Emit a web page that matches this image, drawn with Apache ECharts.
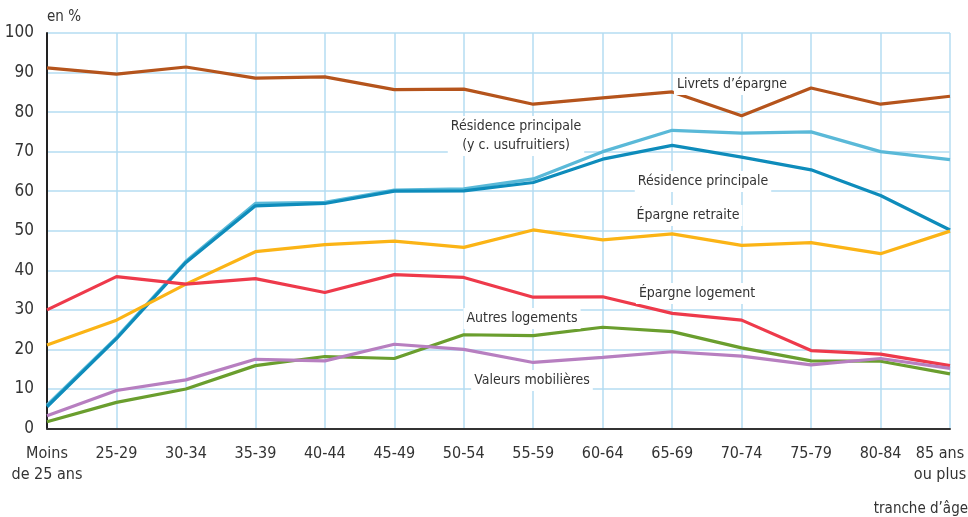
<!DOCTYPE html>
<html>
<head>
<meta charset="utf-8">
<script src="https://cdn.jsdelivr.net/npm/echarts@6/dist/echarts.min.js"></script>
<style>
  html, body { margin: 0; padding: 0; background: #fff; }
  #chart { width: 968px; height: 517px; }
</style>
</head>
<body>
<div id="chart"></div>
<script>
const ageGroups = ['Moins\nde 25 ans', '25-29', '30-34', '35-39', '40-44', '45-49', '50-54',
  '55-59', '60-64', '65-69', '70-74', '75-79', '80-84', '85 ans\nou plus']

const livrets = [91.2, 89.6, 91.4, 88.6, 88.9, 85.7, 85.8, 82.0, 83.6, 85.1, 79.1, 86.1, 82.0, 84.0]
const residenceUsufruit = [5.9, 23.0, 42.3, 56.9, 57.2, 60.3, 60.6, 63.1, 70.0, 75.4, 74.7, 75.0, 70.0, 68.0]
const residence = [5.5, 22.7, 42.0, 56.3, 56.9, 60.0, 60.1, 62.2, 68.1, 71.6, 68.6, 65.4, 58.9, 50.2]
const epargneRetraite = [21.1, 27.4, 36.5, 44.7, 46.5, 47.4, 45.8, 50.2, 47.7, 49.2, 46.3, 47.0, 44.2, 49.9]
const epargneLogement = [30.0, 38.4, 36.5, 37.9, 34.4, 38.9, 38.2, 33.2, 33.3, 29.1, 27.4, 19.7, 18.8, 15.9]
const autresLogements = [1.7, 6.6, 10.0, 15.9, 18.2, 17.7, 23.7, 23.5, 25.6, 24.5, 20.4, 17.1, 17.0, 13.8]
const valeursMobilieres = [3.2, 9.6, 12.3, 17.5, 17.1, 21.3, 20.0, 16.7, 18.0, 19.4, 18.3, 16.1, 17.7, 15.2]

const font = '"Liberation Sans Narrow", "DejaVu Sans Condensed", "Liberation Sans", sans-serif'
const gridColor = '#b5dcf2'

function line(name, data, color) {
  return {
    name,
    type: 'line',
    data,
    symbol: 'none',
    lineStyle: { color, width: 3.2 },
    itemStyle: { color },
  }
}

// x, y = centre top of the text block
function note(text, x, y) {
  return {
    type: 'text',
    x,
    y,
    z: 100,
    style: {
      text,
      font: '14px ' + font,
      fill: '#333',
      backgroundColor: '#fff',
      padding: [1, 3],
      align: 'center',
      verticalAlign: 'top',
      lineHeight: 19,
    },
  }
}

const chart = echarts.init(document.getElementById('chart'))

chart.setOption({
  animation: false,
  grid: { left: 47, right: 18, top: 33, bottom: 88.5, outerBoundsMode: 'none' },
  xAxis: {
    type: 'category',
    boundaryGap: false,
    data: ageGroups.map((a, i) => i === ageGroups.length - 1
      ? { value: a, textStyle: { padding: [0, 20, 0, 0] } }
      : a),
    axisLine: { lineStyle: { color: '#333', width: 2 } },
    axisTick: { show: false },
    axisLabel: { color: '#333', fontSize: 16, fontFamily: font, margin: 15, lineHeight: 21, interval: 0 },
    splitLine: { show: true, lineStyle: { color: gridColor, width: 1.5 } },
  },
  yAxis: {
    type: 'value',
    min: 0,
    max: 100,
    interval: 10,
    name: 'en %',
    nameLocation: 'end',
    nameGap: 16,
    nameTextStyle: { color: '#333', fontSize: 15, fontFamily: font, align: 'left', verticalAlign: 'middle' },
    axisLine: { show: true, lineStyle: { color: '#222', width: 2 } },
    axisTick: { show: false },
    axisLabel: { color: '#333', fontSize: 17, fontFamily: font, margin: 13 },
    splitLine: { show: true, lineStyle: { color: gridColor, width: 1.5 } },
  },
  graphic: [
    note('Livrets d’épargne', 732, 74),
    note('Résidence principale\n(y c. usufruitiers)', 516, 116),
    note('Résidence principale', 703, 171),
    note('Épargne retraite', 688, 205),
    note('Épargne logement', 697, 283),
    note('Autres logements', 522, 308),
    note('Valeurs mobilières', 532, 370),
    {
      type: 'text',
      right: 0,
      top: 502,
      style: { text: 'tranche d’âge', font: '15px ' + font, fill: '#333' },
    },
  ],
  series: [
    line('Livrets d’épargne', livrets, '#b5541c'),
    line('Résidence principale (y c. usufruitiers)', residenceUsufruit, '#5ab9d8'),
    line('Résidence principale', residence, '#0e8cbb'),
    line('Épargne retraite', epargneRetraite, '#fbb416'),
    line('Épargne logement', epargneLogement, '#ee3a4b'),
    line('Autres logements', autresLogements, '#6a9e2e'),
    line('Valeurs mobilières', valeursMobilieres, '#b77fc0'),
  ],
})
</script>
</body>
</html>
